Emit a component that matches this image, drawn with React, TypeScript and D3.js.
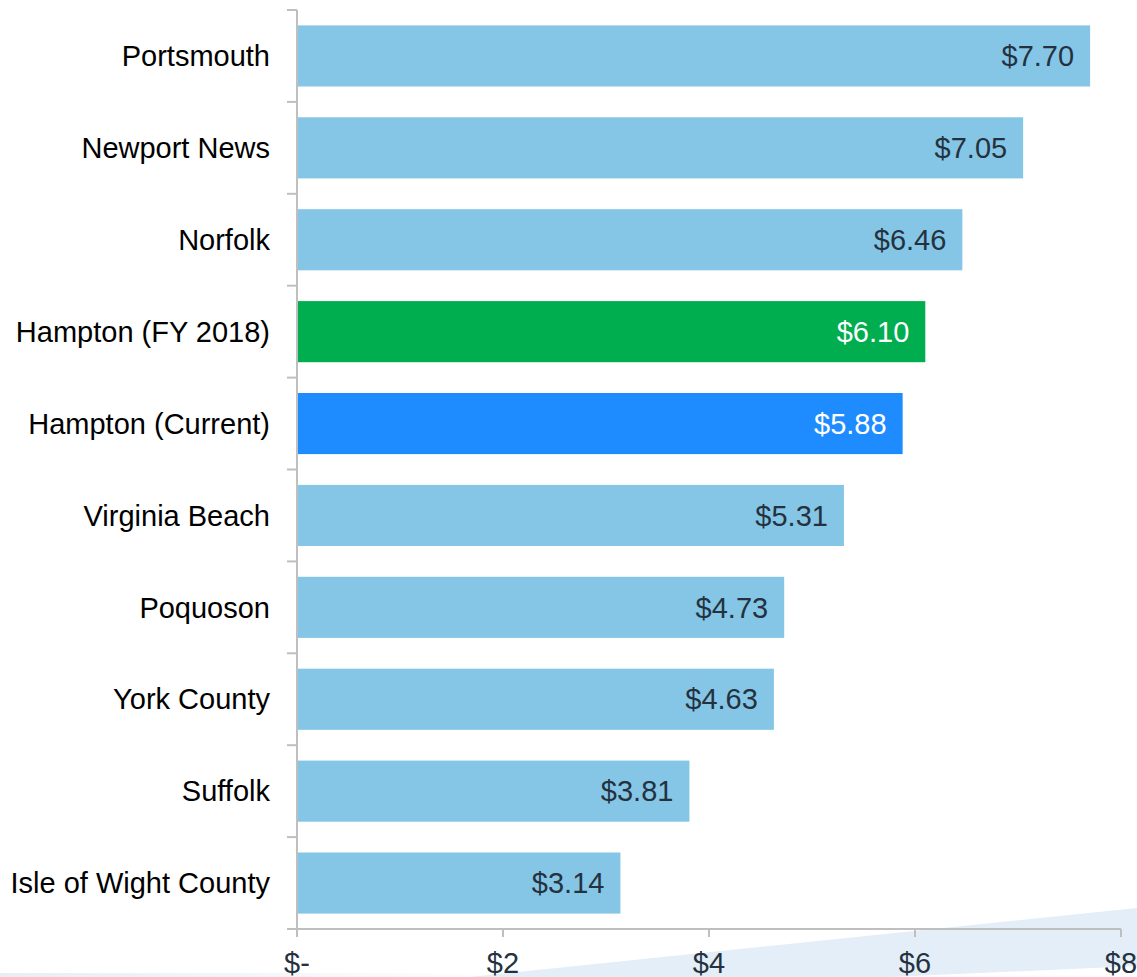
import React from "react";
import * as d3 from "d3";

const categories = [
  "Portsmouth",
  "Newport News",
  "Norfolk",
  "Hampton (FY 2018)",
  "Hampton (Current)",
  "Virginia Beach",
  "Poquoson",
  "York County",
  "Suffolk",
  "Isle of Wight County",
];
const values = [7.7, 7.05, 6.46, 6.1, 5.88, 5.31, 4.73, 4.63, 3.81, 3.14];
const barColors = [
  "#85C6E6", "#85C6E6", "#85C6E6", "#00AE4F", "#1E8BFE",
  "#85C6E6", "#85C6E6", "#85C6E6", "#85C6E6", "#85C6E6",
];
const labelColors = [
  "#243240", "#243240", "#243240", "#FFFFFF", "#FFFFFF",
  "#243240", "#243240", "#243240", "#243240", "#243240",
];
const xTicks = [0, 2, 4, 6, 8];
const xTickLabels = ["$-", "$2", "$4", "$6", "$8"];

const W = 1137;
const H = 977;
const FONT = "'Liberation Sans', Arial, sans-serif";

export default function App() {
  const x = d3.scaleLinear().domain([0, 8]).range([297, 1121]);
  const y = d3
    .scaleBand<string>()
    .domain(categories)
    .range([10, 929])
    .paddingInner(0.335)
    .paddingOuter(0.1675);
  const step = y.step();
  const bandTop = 10;
  const boundaries = d3.range(categories.length + 1).map((i) => bandTop + i * step);
  const axisColor = "#BFBFBF";
  const fmt = d3.format("$.2f");

  return (
    <svg
      width={W}
      height={H}
      style={{ position: "absolute", left: 0, top: 0, background: "#fff" }}
      fontFamily={FONT}
    >
      <defs>
        <linearGradient id="strip" x1="0" x2="1" y1="0" y2="0">
          <stop offset="0" stopColor="#E6ECF2" stopOpacity="0.9" />
          <stop offset="1" stopColor="#E6ECF2" stopOpacity="0" />
        </linearGradient>
      </defs>
      {/* decorative swoosh */}
      <polygon points="470,977 1137,908 1137,966 890,977" fill="#E3EEF8" />
      <rect x={0} y={973} width={520} height={4} fill="url(#strip)" />

      {/* bars */}
      {categories.map((c, i) => (
        <g key={c}>
          <rect
            x={x(0)}
            y={y(c)!}
            width={x(values[i]) - x(0)}
            height={y.bandwidth()}
            fill={barColors[i]}
          />
          <text
            x={x(values[i]) - 16}
            y={y(c)! + y.bandwidth() / 2}
            dy="0.35em"
            textAnchor="end"
            fontSize={29}
            fill={labelColors[i]}
          >
            {fmt(values[i])}
          </text>
          <text
            x={270}
            y={y(c)! + y.bandwidth() / 2}
            dy="0.35em"
            textAnchor="end"
            fontSize={29}
            fill="#000"
          >
            {c}
          </text>
        </g>
      ))}

      {/* y axis */}
      <line x1={x(0)} x2={x(0)} y1={bandTop} y2={929} stroke={axisColor} strokeWidth={2} />
      {boundaries.map((b, i) => (
        <line key={i} x1={287} x2={x(0)} y1={b} y2={b} stroke={axisColor} strokeWidth={2} />
      ))}

      {/* x axis */}
      <line x1={287} x2={x(8)} y1={929} y2={929} stroke={axisColor} strokeWidth={2} />
      {xTicks.map((t, i) => (
        <g key={t}>
          <line x1={x(t)} x2={x(t)} y1={929} y2={937} stroke={axisColor} strokeWidth={2} />
          <text x={x(t)} y={973} textAnchor="middle" fontSize={29} fill="#243240">
            {xTickLabels[i]}
          </text>
        </g>
      ))}
    </svg>
  );
}
